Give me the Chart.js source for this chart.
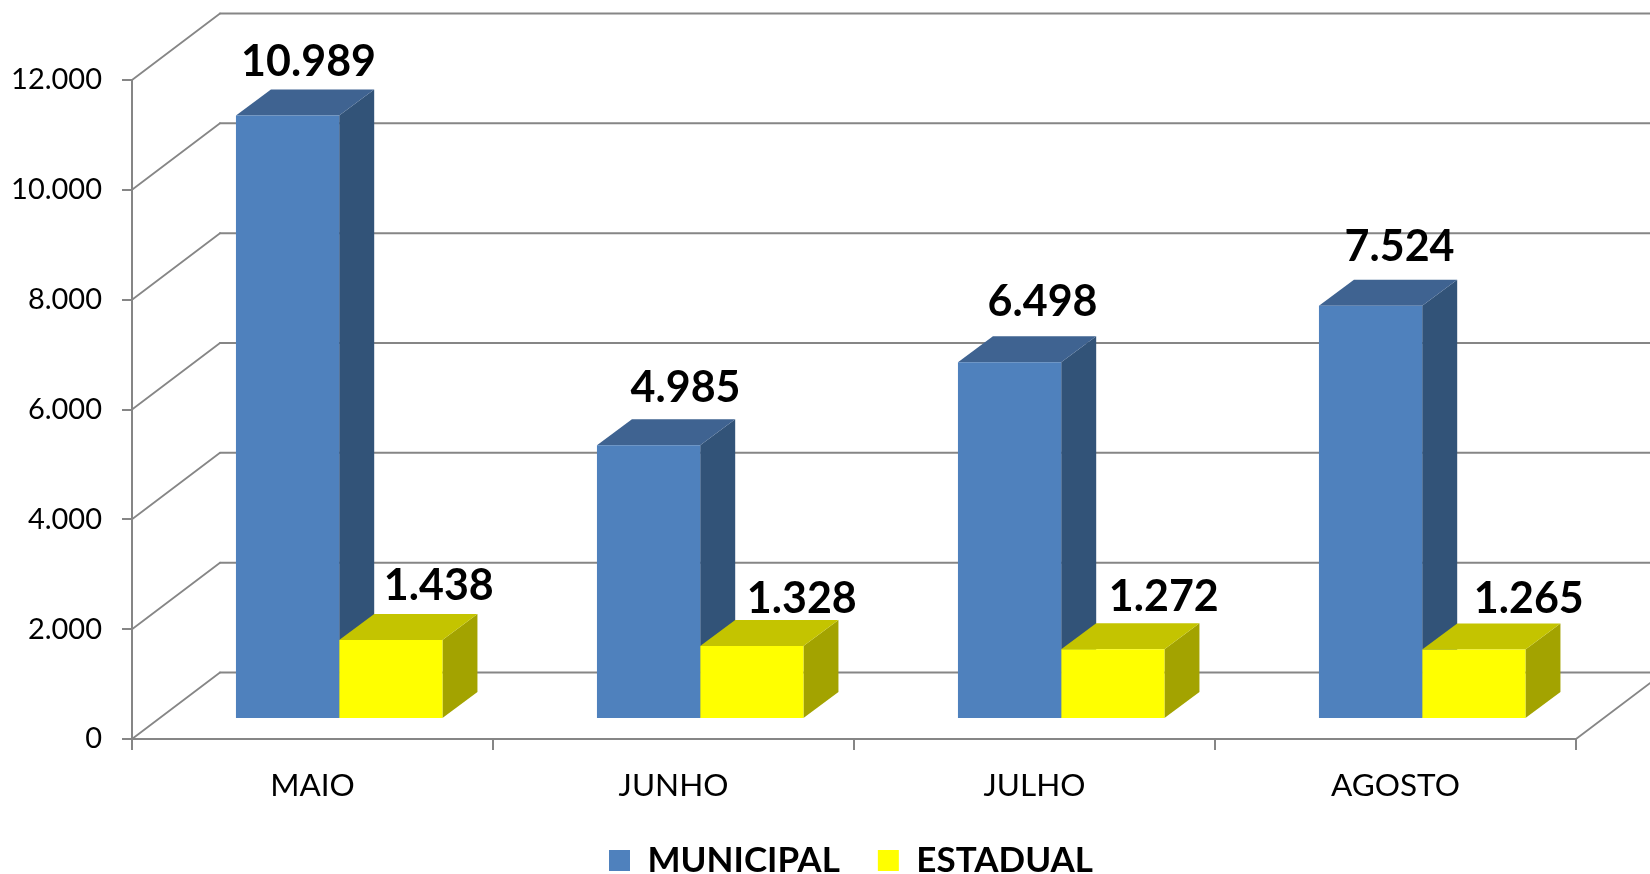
<!DOCTYPE html>
<html><head><meta charset="utf-8">
<style>html,body{margin:0;padding:0;background:#fff}canvas{display:block}</style>
<script src="https://cdn.jsdelivr.net/npm/chart.js@4"></script>
</head><body><canvas id="c" width="1650" height="874"></canvas>
<script>
const categories = ["MAIO","JUNHO","JULHO","AGOSTO"];
const municipal = [10989,4985,6498,7524];
const estadual = [1438,1328,1272,1265];
const yTicks = [0,2000,4000,6000,8000,10000,12000];

const fmt = v => String(v).replace(/\B(?=(\d{3})+$)/g,'.');
const GRAY = '#868686';
const FONT = 'Lato';
// 3D look
const WALL = {x:88,y:-66.5}, SHIFT = {x:26.7,y:-20}, DEPTH = {x:35,y:-26};
const faces = [{top:'#3F6391',side:'#325378'},{top:'#C4C400',side:'#A3A300'}];
// hand-placed label nudges of the original, per series
const labelNudge = [
  [[21,-40],[37,-43],[33,-46],[29,-45]],
  [[48,-40],[50,-33],[51,-38],[55,-37]]
];

const threeD = {
  id:'threeD',
  afterLayout(chart){
    const l = chart.legend;
    l.left += 63; l.right += 63;
    const h = l.bottom-l.top; l.top = 805; l.bottom = 805+h;
    chart.scales.x.bottom = chart.height;
  },
  beforeDatasetsDraw(chart){
    const {ctx,scales:{x,y}} = chart;
    ctx.save();
    ctx.strokeStyle = GRAY; ctx.lineCap='round';
    yTicks.forEach(t=>{
      const py = y.getPixelForValue(t);
      ctx.lineWidth = 1.8;
      ctx.beginPath(); ctx.moveTo(x.left,py); ctx.lineTo(x.left+WALL.x,py+WALL.y); ctx.stroke();
      ctx.lineWidth = 2;
      ctx.beginPath(); ctx.moveTo(x.left+WALL.x,py+WALL.y); ctx.lineTo(chart.width,py+WALL.y); ctx.stroke();
    });
    const p0 = y.getPixelForValue(0);
    ctx.lineWidth = 1.8;
    ctx.beginPath(); ctx.moveTo(x.right,p0); ctx.lineTo(x.right+WALL.x,p0+WALL.y); ctx.stroke();
    ctx.restore();
    ctx.save();
    ctx.translate(SHIFT.x,SHIFT.y);
    [0,1].forEach(di=>{
      chart.getDatasetMeta(di).data.forEach(b=>{
        const l=b.x-b.width/2, r=b.x+b.width/2, t=b.y, bo=b.base;
        ctx.fillStyle=faces[di].side;
        ctx.beginPath();ctx.moveTo(r,t);ctx.lineTo(r+DEPTH.x,t+DEPTH.y);ctx.lineTo(r+DEPTH.x,bo+DEPTH.y);ctx.lineTo(r,bo);ctx.closePath();ctx.fill();
        ctx.fillStyle=faces[di].top;
        ctx.beginPath();ctx.moveTo(l,t);ctx.lineTo(l+DEPTH.x,t+DEPTH.y);ctx.lineTo(r+DEPTH.x,t+DEPTH.y);ctx.lineTo(r,t);ctx.closePath();ctx.fill();
      });
    });
    ctx.restore();
    ctx.save();
    ctx.translate(SHIFT.x,SHIFT.y);
  },
  afterDatasetsDraw(chart){
    const {ctx} = chart;
    ctx.restore();
    ctx.save();
    ctx.fillStyle='#000';ctx.textAlign='center';ctx.textBaseline='alphabetic';
    ctx.font='bold 43px '+FONT;
    chart.data.datasets.forEach((ds,di)=>{
      chart.getDatasetMeta(di).data.forEach((b,i)=>{
        const [dx,dy]=labelNudge[di][i];
        ctx.fillText(fmt(ds.data[i]),b.x+SHIFT.x+dx,b.y+SHIFT.y+dy);
      });
    });
    ctx.restore();
  }
};

new Chart(document.getElementById('c'),{
  type:'bar',
  plugins:[threeD],
  data:{labels:categories,datasets:[
    {label:'MUNICIPAL',data:municipal,backgroundColor:'#4F81BD',clip:false,categoryPercentage:0.572,barPercentage:1},
    {label:'ESTADUAL',data:estadual,backgroundColor:'#FFFF00',clip:false,categoryPercentage:0.572,barPercentage:1}
  ]},
  options:{
    responsive:false,animation:false,
    layout:{padding:{top:80,right:74,left:0,bottom:0}},
    plugins:{
      tooltip:{enabled:false},
      legend:{position:'bottom',labels:{boxWidth:21,boxHeight:21,padding:38,color:'#000',font:{family:FONT,size:35,weight:'bold'}}}
    },
    scales:{
      x:{
        afterFit(s){s.height=52;},
        grid:{display:true,offset:true,drawOnChartArea:false,drawTicks:true,tickLength:11,color:GRAY,lineWidth:2},
        border:{color:GRAY,width:2},
        ticks:{color:'#000',padding:17,maxRotation:0,autoSkip:false,font:{family:FONT,size:31.5}}
      },
      y:{
        min:0,max:12000,
        afterFit(s){s.width=132;},
        afterBuildTicks(s){s.ticks=yTicks.map(v=>({value:v}));},
        grid:{display:true,drawOnChartArea:false,drawTicks:true,tickLength:10,color:GRAY,lineWidth:2},
        border:{color:GRAY,width:2},
        ticks:{color:'#000',padding:20,callback:v=>fmt(v),font:{family:FONT,size:29}}
      }
    }
  }
});
</script></body></html>
